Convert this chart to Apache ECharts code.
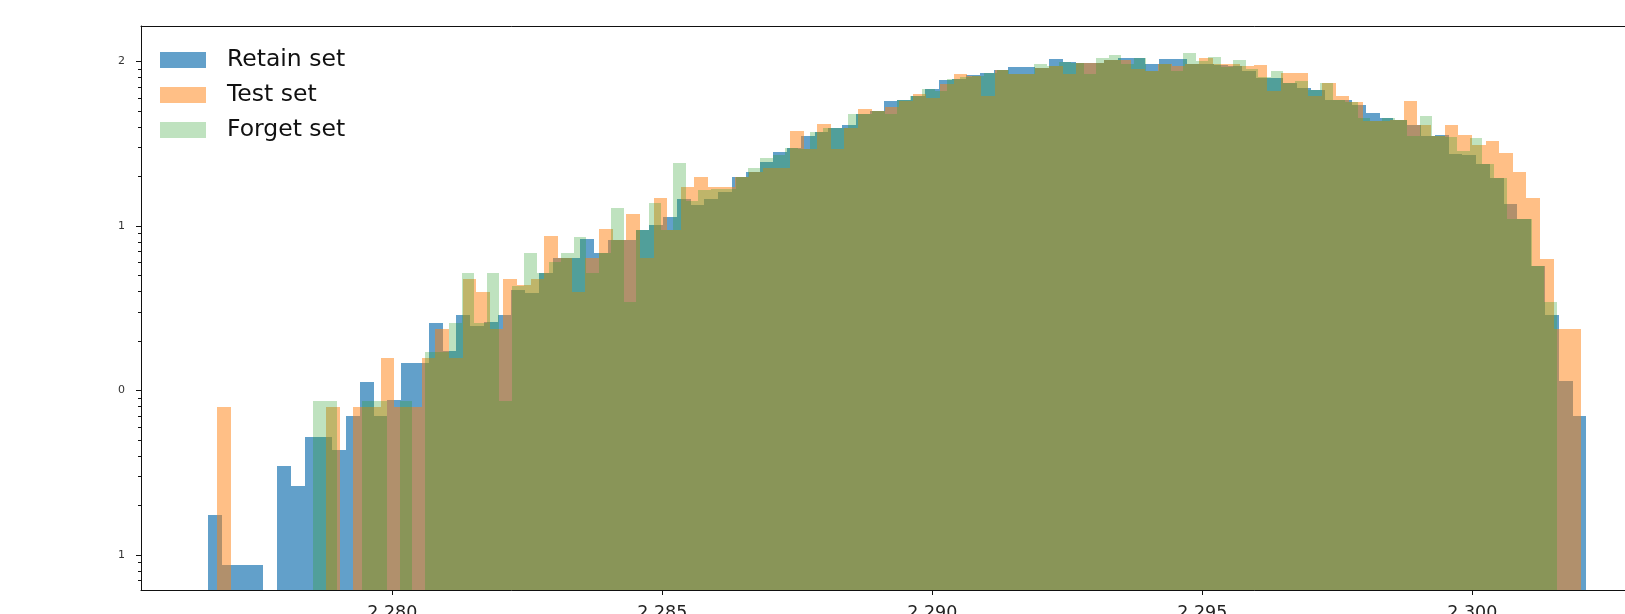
<!DOCTYPE html>
<html>
<head>
<meta charset="utf-8">
<title>Retain / Test / Forget histogram</title>
<script src="https://cdn.jsdelivr.net/npm/echarts@6/dist/echarts.min.js"></script>
<style>
  html, body { margin: 0; padding: 0; background: #fff; overflow: hidden; }
  #chart { width: 1625px; height: 614px; }
</style>
</head>
<body>
<div id="chart"></div>
<script>
// histogram ranges (min/max of each set), 100 bins each
var binCount = 100;
var retainRange = [2.276593, 2.302111];
var testRange = [2.276754, 2.302013];
var forgetRange = [2.278524, 2.301561];

// density per bin (0 = empty bin)
var retainValues = [
  0.174, 0.087, 0.087, 0.087, 0, 0.348, 0.261, 0.522, 0.522, 0.435,
  0.696, 1.131, 0.696, 0.870, 1.479, 1.479, 2.56, 1.74, 2.87, 2.46,
  2.60, 2.87, 4.07, 3.90, 5.16, 6.36, 6.36, 8.30, 6.82, 8.18,
  8.18, 9.41, 10.1, 11.4, 14.7, 13.4, 14.7, 16.0, 19.8, 21.2,
  24.4, 28.4, 30.0, 35.5, 37.1, 39.7, 40.9, 48.3, 50.4, 57.2,
  58.8, 62.2, 68.5, 77.7, 78.9, 83.4, 85.8, 89.4, 93.2, 93.2,
  91.9, 104.3, 100, 98.6, 98.6, 102.8, 105.8, 105.8, 97.2, 104.3,
  104.3, 97.2, 97.2, 95.9, 94.6, 88.2, 79.9, 79.9, 74.6, 69.5,
  67.6, 58.8, 58.8, 54.8, 49.0, 45.7, 44.4, 41.4, 35.5, 36.0,
  27.6, 26.9, 23.7, 19.5, 13.7, 11.0, 5.69, 2.87, 1.14, 0.70
];
var testValues = [
  0.792, 0, 0, 0, 0, 0, 0, 0, 0.792, 0,
  0.792, 0.792, 1.584, 0.792, 0.792, 1.584, 2.376, 1.584, 4.75, 3.96,
  2.376, 4.75, 4.36, 4.75, 8.66, 6.36, 3.96, 6.36, 9.54, 8.18,
  11.9, 6.36, 14.9, 9.41, 17.2, 19.8, 17.2, 17.2, 19.8, 21.2,
  22.4, 22.7, 38.1, 29.6, 42.0, 29.6, 39.7, 51.8, 50.4, 53.3,
  58.0, 63.9, 60.4, 73.5, 84.5, 82.2, 62.2, 89.4, 84.5, 84.5,
  91.9, 94.6, 84.5, 98.6, 98.6, 102.8, 102.8, 90.7, 88.2, 97.2,
  94.6, 97.2, 105.8, 97.2, 97.2, 94.6, 95.9, 66.7, 85.8, 85.8,
  62.2, 74.6, 62.2, 56.4, 43.8, 43.8, 44.4, 57.2, 41.4, 35.5,
  41.4, 36.0, 30.9, 33.1, 28.0, 21.2, 14.9, 6.28, 2.376, 2.376
];
var forgetValues = [
  0.861, 0.861, 0, 0, 0.861, 0.861, 0, 0.861, 0, 1.722,
  1.722, 2.583, 5.17, 2.583, 5.17, 0.861, 4.31, 6.89, 5.17, 6.03,
  6.89, 8.61, 5.17, 6.89, 12.9, 3.44, 9.47, 13.8, 9.47, 24.1,
  14.3, 16.5, 16.9, 16.9, 19.8, 22.4, 26.1, 26.9, 30.0, 29.6,
  37.1, 39.7, 39.7, 48.3, 48.3, 50.4, 48.3, 58.8, 62.2, 68.5,
  66.7, 78.9, 81.1, 82.2, 85.8, 89.4, 84.5, 84.5, 97.2, 94.6,
  100, 98.6, 84.5, 105.8, 110.3, 97.2, 105.8, 88.2, 97.2, 88.2,
  113.4, 101.4, 107.2, 93.2, 102.8, 90.7, 81.1, 88.2, 74.6, 76.7,
  67.6, 74.6, 58.8, 56.4, 45.1, 43.8, 45.1, 44.4, 35.5, 47.0,
  35.5, 34.6, 28.8, 34.1, 23.7, 19.5, 11.0, 11.0, 5.69, 3.44
];

// tick labels / positions
var xTickValues = [2.280, 2.285, 2.290, 2.295, 2.300];
var yMajorTicks = [0.1, 1, 10, 100];
var yMinorTicks = [0.07, 0.08, 0.09, 0.2, 0.3, 0.4, 0.5, 0.6, 0.7, 0.8, 0.9,
  2, 3, 4, 5, 6, 7, 8, 9, 20, 30, 40, 50, 60, 70, 80, 90];

// the axes box is wider than the picture: x stops where the window ends, no right border
var X_MIN = 2.275346, X_MAX = 2.302827;
var Y_MIN = 0.06124, Y_MAX = 164.6;

function toBins(range, values) {
  var w = (range[1] - range[0]) / binCount;
  var out = [];
  values.forEach(function (v, i) {
    if (v > 0) out.push([range[0] + i * w, range[0] + (i + 1) * w, v]);
  });
  return out;
}

// one rect per bin, snapped to whole pixels so neighbours don't leave seams
function renderBin(params, api) {
  var top = api.coord([api.value(0), api.value(2)]);
  var bot = api.coord([api.value(1), Y_MIN]);
  var x0 = Math.round(top[0]), x1 = Math.round(bot[0]);
  var y0 = Math.round(top[1]), y1 = Math.round(bot[1]);
  return {
    type: 'rect',
    shape: { x: x0, y: y0, width: x1 - x0, height: y1 - y0 },
    style: { fill: api.visual('color') }
  };
}

var chart = echarts.init(document.getElementById('chart'));

var frameLine = { show: true, lineStyle: { color: '#111', width: 1 } };

var yBase = {
  type: 'log',
  logBase: 10,
  min: Y_MIN,
  max: Y_MAX,
  position: 'left',
  splitLine: { show: false },
  axisLine: { show: false }
};

var option = {
  animation: false,
  textStyle: { fontFamily: 'DejaVu Sans' },
  // tick labels hang off the bottom of the picture, so don't let the grid shrink for them
  grid: { left: 141, right: 0, top: 26, bottom: 24, outerBoundsMode: 'none', containLabel: false },
  legend: {
    orient: 'vertical',
    left: 160,
    top: 48,
    padding: 0,
    icon: 'rect',
    itemWidth: 46,
    itemHeight: 16,
    itemGap: 11,
    textStyle: { fontSize: 23.5, lineHeight: 23.5, color: '#111', padding: [0, 0, 0, 16] },
    data: ['Retain set', 'Test set', 'Forget set']
  },
  xAxis: [
    {
      type: 'value',
      min: X_MIN,
      max: X_MAX,
      position: 'bottom',
      splitLine: { show: false },
      axisLine: frameLine,
      axisTick: { show: true, length: 5, lineStyle: { color: '#111' }, customValues: xTickValues },
      axisLabel: {
        customValues: xTickValues,
        margin: 14,
        fontSize: 17.5,
        color: '#222',
        formatter: function (v) { return v.toFixed(3); }
      }
    },
    {
      // top edge of the frame only
      type: 'value',
      min: X_MIN,
      max: X_MAX,
      position: 'top',
      splitLine: { show: false },
      axisLine: frameLine,
      axisTick: { show: false },
      axisLabel: { show: false }
    }
  ],
  yAxis: [
    Object.assign({}, yBase, {
      axisLine: frameLine,
      axisTick: { show: true, length: 5, lineStyle: { color: '#111' }, customValues: yMajorTicks },
      axisLabel: {
        customValues: yMajorTicks,
        margin: 16,
        fontSize: 11,
        color: '#333',
        formatter: function (v) { return String(Math.abs(Math.round(Math.log(v) / Math.LN10))); }
      }
    }),
    Object.assign({}, yBase, {
      axisTick: { show: true, length: 3, lineStyle: { color: '#111' }, customValues: yMinorTicks },
      axisLabel: { show: false }
    })
  ],
  series: [
    {
      name: 'Retain set', type: 'custom', renderItem: renderBin,
      itemStyle: { color: 'rgba(31,119,180,0.7)' },
      encode: { x: [0, 1], y: 2 },
      data: toBins(retainRange, retainValues)
    },
    {
      name: 'Test set', type: 'custom', renderItem: renderBin,
      itemStyle: { color: 'rgba(255,127,14,0.5)' },
      encode: { x: [0, 1], y: 2 },
      data: toBins(testRange, testValues)
    },
    {
      name: 'Forget set', type: 'custom', renderItem: renderBin,
      itemStyle: { color: 'rgba(44,160,44,0.3)' },
      encode: { x: [0, 1], y: 2 },
      data: toBins(forgetRange, forgetValues)
    }
  ]
};

chart.setOption(option);
</script>
</body>
</html>
